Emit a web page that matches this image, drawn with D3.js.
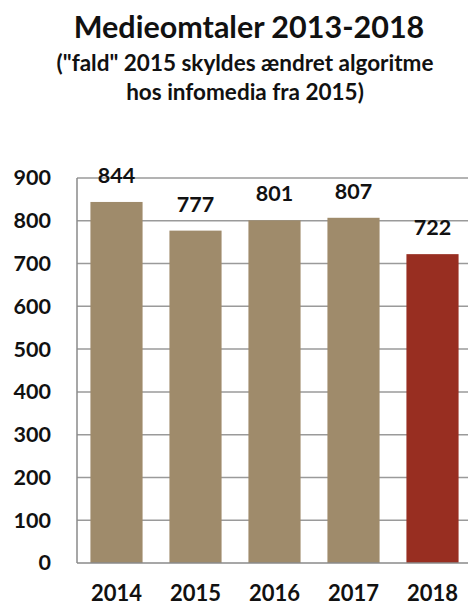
<!DOCTYPE html>
<html><head><meta charset="utf-8">
<script src="https://cdn.jsdelivr.net/npm/d3@7/dist/d3.min.js"></script>
<style>body{margin:0;background:#fff}svg{display:block}text{font-family:Lato,"Open Sans",sans-serif;font-weight:bold;fill:#111}</style>
</head><body><svg id="c" width="468" height="606"></svg>
<script>
const categories = ["2014","2015","2016","2017","2018"];
const values = [844,777,801,807,722];
const barColors = ["#9f8b6b","#9f8b6b","#9f8b6b","#9f8b6b","#982e21"];
const yTicks = [0,100,200,300,400,500,600,700,800,900];
const titleLines = ["Medieomtaler 2013-2018"];
const subtitleLines = ["(\"fald\" 2015 skyldes ændret algoritme","hos infomedia fra 2015)"];

const svg = d3.select("#c");
const x = d3.scaleBand().domain(categories).range([77,472]).paddingInner(0.34).paddingOuter(0.17);
const y = d3.scaleLinear().domain([0,900]).range([563,178]);

// gridlines
svg.append("g").selectAll("line").data(yTicks.filter(d=>d>0)).join("line")
  .attr("x1",77).attr("x2",468).attr("y1",d=>y(d)).attr("y2",d=>y(d))
  .attr("stroke","#9a9a9a").attr("stroke-width",1.5);

// bars
svg.append("g").selectAll("rect").data(values).join("rect")
  .attr("x",(d,i)=>x(categories[i])).attr("width",x.bandwidth())
  .attr("y",d=>y(d)).attr("height",d=>y(0)-y(d))
  .attr("fill",(d,i)=>barColors[i]);

// axes lines
svg.append("line").attr("x1",77).attr("x2",77).attr("y1",y(900)).attr("y2",y(0)).attr("stroke","#8a8a8a").attr("stroke-width",1.5);
svg.append("line").attr("x1",77).attr("x2",468).attr("y1",y(0)).attr("y2",y(0)).attr("stroke","#8a8a8a").attr("stroke-width",1.5);

// y tick labels
const yAxis = d3.axisLeft(y).tickValues(yTicks).tickSize(0).tickPadding(0);
const gy = svg.append("g").attr("transform","translate(51,0)").call(yAxis);
gy.select(".domain").remove();
gy.selectAll("text").attr("font-size",21.5).attr("font-family","Lato").attr("font-weight","bold").attr("fill","#111");

// x labels
const xAxis = d3.axisBottom(x).tickSize(0).tickPadding(0);
const gx = svg.append("g").attr("transform","translate(0,585)").call(xAxis);
gx.select(".domain").remove();
gx.selectAll("text").attr("font-size",22).attr("font-family","Lato").attr("font-weight","bold").attr("fill","#111");

// value labels
svg.append("g").selectAll("text").data(values).join("text")
  .attr("x",(d,i)=>x(categories[i])+x.bandwidth()/2).attr("y",d=>y(d)-19)
  .attr("text-anchor","middle").attr("font-size",21.5).text(d=>d);

// title
svg.append("text").attr("x",249).attr("y",38).attr("text-anchor","middle").attr("font-size",30.5).text(titleLines[0]);
svg.selectAll(".sub").data(subtitleLines).join("text").attr("class","sub")
  .attr("x",245).attr("y",(d,i)=>71+i*29).attr("text-anchor","middle").attr("font-size",22.5).text(d=>d);
</script></body></html>
